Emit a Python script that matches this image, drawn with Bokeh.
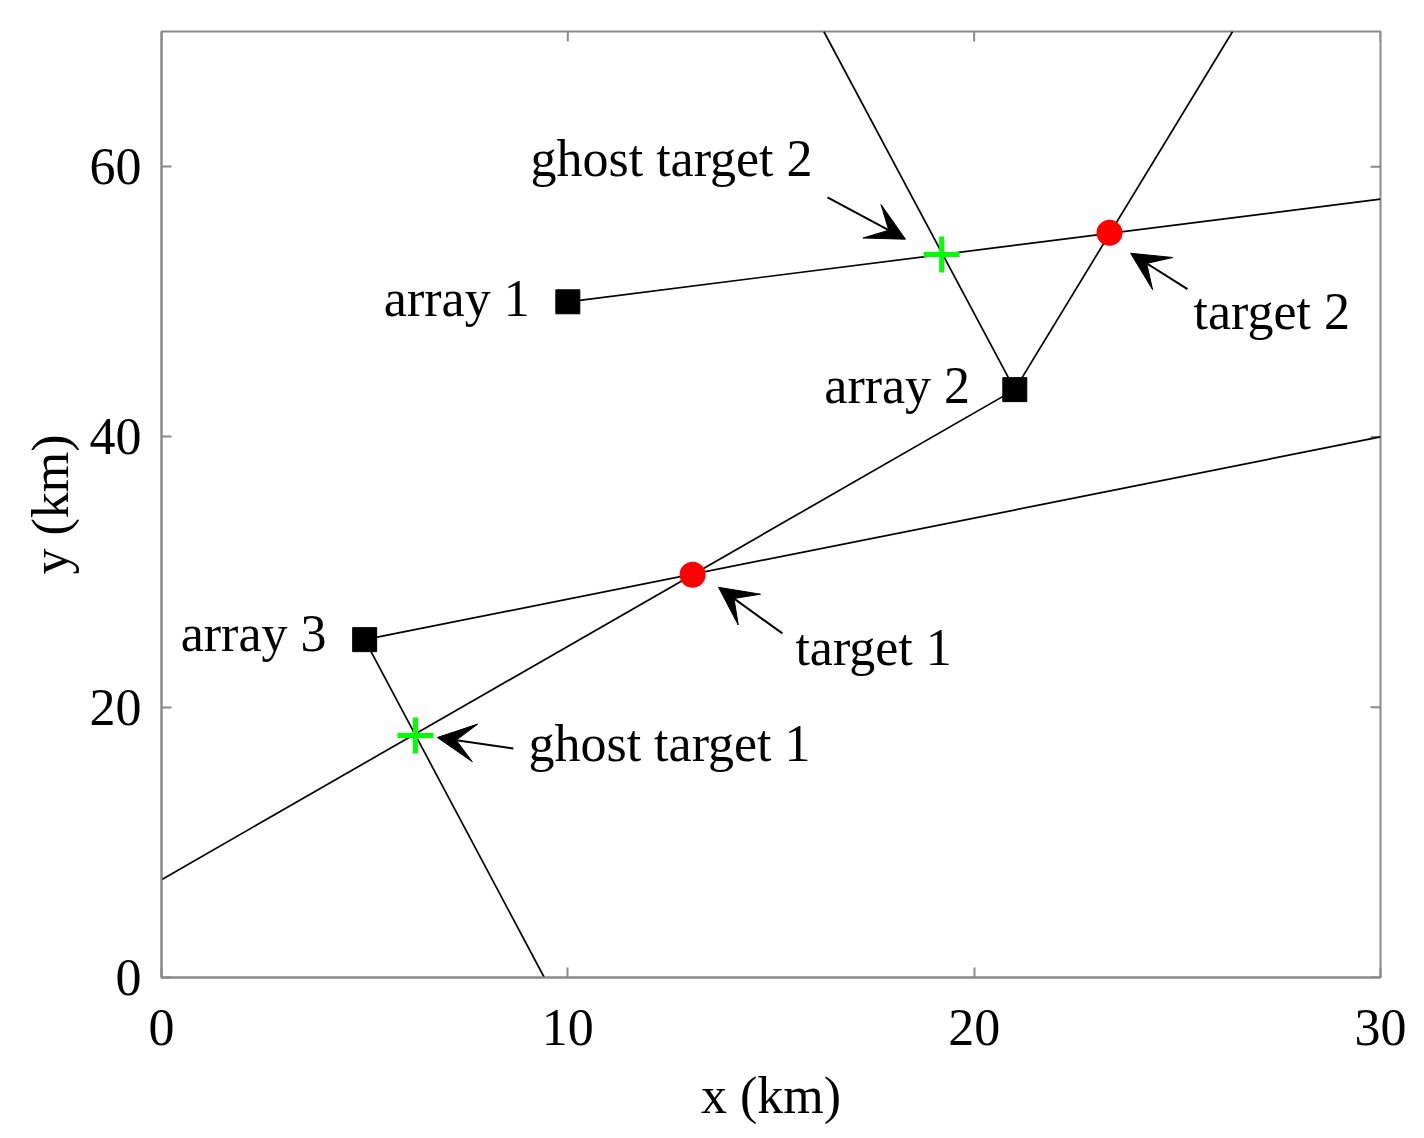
import math
from bokeh.plotting import figure
from bokeh.models import Range1d, FixedTicker, Arrow, VeeHead
from bokeh.embed import file_html
from bokeh.resources import INLINE
from bokeh.core.properties import value

# ---------------- data (km) ----------------
array_names = ["array 1", "array 2", "array 3"]
array_x = [10.0, 21.0, 5.0]
array_y = [50.0, 43.5, 25.0]

target_names = ["target 1", "target 2"]
target_x = [13.07, 23.33]
target_y = [29.8, 55.1]

ghost_names = ["ghost target 1", "ghost target 2"]
ghost_x = [6.25, 19.2]
ghost_y = [17.9, 53.5]

# bearing lines: from an array to where they leave the plot
bearing_x0 = [10.0, 21.0, 21.0, 21.0, 5.0, 5.0]
bearing_y0 = [50.0, 43.5, 43.5, 43.5, 25.0, 25.0]
bearing_x1 = [30.0, 26.36, 16.30, 0.0, 30.0, 9.42]
bearing_y1 = [57.6, 70.0, 70.0, 7.24, 40.0, 0.0]

x_ticks = [0, 10, 20, 30]
y_ticks = [0, 20, 40, 60]
x_max = 30
y_max = 70

# annotation placements (data coords)
array_label_x = [9.06, 19.9, 4.06]
array_label_y = [50.25, 43.8, 25.45]

note_texts = ["ghost target 2", "target 2", "target 1", "ghost target 1"]
note_x = [9.08, 25.40, 15.60, 9.03]
note_y = [60.6, 49.3, 24.45, 17.3]

arrow_x0 = [16.39, 25.25, 15.28, 8.66]
arrow_y0 = [57.73, 50.93, 25.46, 16.95]
arrow_x1 = [18.31, 23.85, 13.71, 6.79]
arrow_y1 = [54.63, 53.59, 28.87, 17.76]

FONT = "Liberation Serif"
FS = "52px"
AX = "#8a8a8a"

p = figure(
    frame_width=1219, frame_height=946,
    min_border_left=161, min_border_top=31, min_border_right=36, min_border_bottom=140,
    x_range=Range1d(0, x_max), y_range=Range1d(0, y_max),
    output_backend="svg", toolbar_location=None, tools="",
    x_axis_label="x (km)", y_axis_label="y (km)",
)
p.grid.visible = False
p.outline_line_color = AX
p.outline_line_width = 2
p.background_fill_color = "white"
p.border_fill_color = "white"

for ax, ticks in ((p.xaxis[0], x_ticks), (p.yaxis[0], y_ticks)):
    ax.ticker = FixedTicker(ticks=ticks)
    ax.major_tick_in = 10
    ax.major_tick_out = 0
    ax.minor_tick_in = 0
    ax.minor_tick_out = 0
    ax.axis_line_color = AX
    ax.axis_line_width = 2
    ax.major_tick_line_color = AX
    ax.major_tick_line_width = 2
    ax.major_label_text_font = FONT
    ax.major_label_text_font_size = FS
    ax.major_label_text_color = "black"
    ax.axis_label_text_font = FONT
    ax.axis_label_text_font_size = FS
    ax.axis_label_text_font_style = "normal"
    ax.axis_label_text_color = "black"
p.xaxis[0].major_label_standoff = 32
p.xaxis[0].axis_label_standoff = 19
p.yaxis[0].major_label_standoff = 20
p.yaxis[0].axis_label_standoff = 8

# inward ticks on the top and right edges of the box
p.ray(x=x_ticks, y=[y_max] * len(x_ticks), length=10, length_units="screen",
      angle=-math.pi / 2, line_color=AX, line_width=2)
p.ray(x=[x_max] * len(y_ticks), y=y_ticks, length=10, length_units="screen",
      angle=math.pi, line_color=AX, line_width=2)

# bearing lines
p.segment(x0=bearing_x0, y0=bearing_y0, x1=bearing_x1, y1=bearing_y1,
          line_color="black", line_width=1.7)

# arrays
p.scatter(array_x, array_y, marker="square", size=24, fill_color="black", line_color="black")
# targets
p.scatter(target_x, target_y, marker="circle", size=26, fill_color="red", line_color=None)
# ghosts
p.scatter(ghost_x, ghost_y, marker="cross", size=36, line_color="#00ff00", line_width=5)

# labels
p.text(x=array_label_x, y=array_label_y, text=array_names,
       text_font=value(FONT), text_font_size=value(FS), text_align="right",
       text_baseline="alphabetic", text_color="black")
p.text(x=note_x, y=note_y, text=note_texts,
       text_font=value(FONT), text_font_size=value(FS), text_align="left",
       text_baseline="alphabetic", text_color="black")

for xs, ys, xe, ye in zip(arrow_x0, arrow_y0, arrow_x1, arrow_y1):
    p.add_layout(Arrow(
        end=VeeHead(size=38, fill_color="black", line_color="black", line_width=1),
        x_start=xs, y_start=ys, x_end=xe, y_end=ye,
        line_color="black", line_width=2))

open("out.html", "w").write(file_html(p, INLINE))
